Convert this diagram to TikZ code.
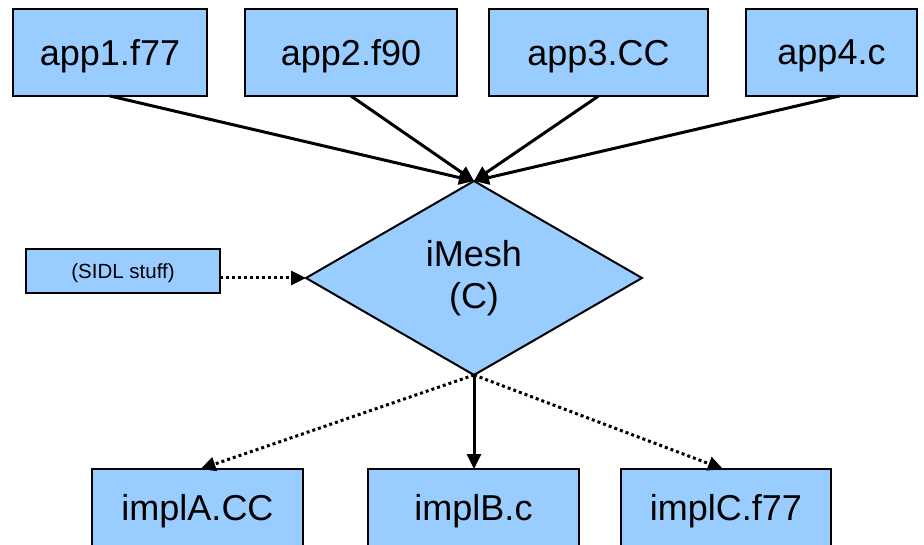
\documentclass[tikz,border=0pt]{standalone}
\usepackage{fontspec}
\setmainfont{Liberation Sans}
\usetikzlibrary{arrows.meta,shapes.geometric}
\definecolor{boxblue}{RGB}{153,204,255}
\tikzset{
  filebox/.style={draw=black, fill=boxblue, line width=2pt, inner sep=0pt, outer sep=0pt,
    text depth=0pt, font=\fontsize{36}{42}\selectfont},
  smallbox/.style={draw=black, fill=boxblue, line width=2pt, inner sep=0pt, outer sep=0pt,
    text depth=0pt, font=\fontsize{20.5}{24}\selectfont},
  hub/.style={diamond, draw=black, fill=boxblue, line width=2pt, inner sep=0pt, outer sep=0pt,
    minimum width=336pt, minimum height=194pt, align=center, font=\fontsize{36}{42}\selectfont},
  link/.style={line width=3pt, -{Triangle[length=15pt,width=14pt]}},
  weaklink/.style={link, dash pattern=on 3pt off 3pt},
}
\begin{document}
\begin{tikzpicture}[x=1pt,y=-1pt]
  \useasboundingbox (0,0) rectangle (924,545);
  \clip (0,0) rectangle (924,545);

  % application sources
  \node[filebox, minimum width=194pt, minimum height=87pt] (app1) at (110,52.5) {app1.f77};
  \node[filebox, minimum width=212pt, minimum height=87pt] (app2) at (351,52.5) {app2.f90};
  \node[filebox, minimum width=219pt, minimum height=87pt] (app3) at (598.5,52.5) {app3.CC};
  \node[filebox, minimum width=171pt, minimum height=87pt] (app4) at (831.5,52.5) {app4.c};

  % interface
  \node[hub] (imesh) at (474,278) {iMesh\\(C)};
  \node[smallbox, minimum width=194pt, minimum height=44pt] (sidl) at (123,271) {(SIDL stuff)};

  % implementations
  \node[filebox, anchor=north, minimum width=211pt, minimum height=77pt] (implA) at (197.5,469) {implA.CC};
  \node[filebox, anchor=north, minimum width=211pt, minimum height=77pt] (implB) at (473.5,469) {implB.c};
  \node[filebox, anchor=north, minimum width=210pt, minimum height=77pt] (implC) at (726,469) {implC.f77};

  % connectors
  \draw[link] (app1.south) -- (imesh.north);
  \draw[link] (app2.south) -- (imesh.north);
  \draw[link] (app3.south) -- (imesh.north);
  \draw[link] ([xshift=8pt]app4.south) -- (imesh.north);
  \draw[weaklink] (sidl.east |- imesh.west) -- (imesh.west);
  \draw[weaklink] (imesh.south) -- ([xshift=3pt]implA.north);
  \draw[link] (imesh.south) -- (imesh.south |- implB.north);
  \draw[weaklink] (imesh.south) -- ([xshift=-3pt]implC.north);
\end{tikzpicture}
\end{document}
